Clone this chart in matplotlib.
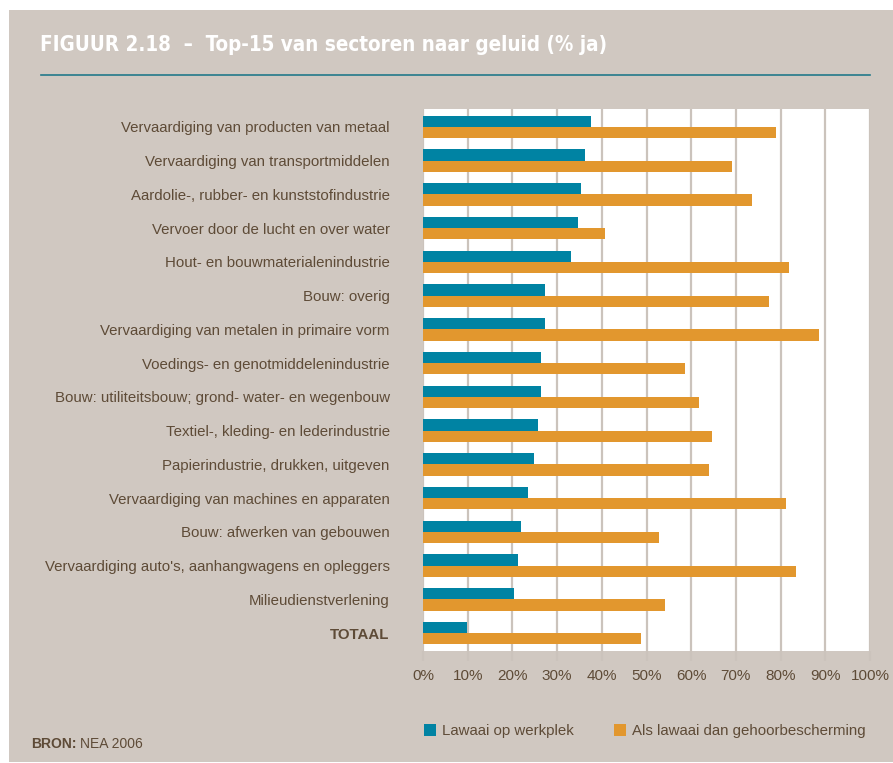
import matplotlib
matplotlib.use("Agg")
import matplotlib.pyplot as plt
from matplotlib.patches import Rectangle, Patch
from matplotlib.lines import Line2D
import numpy as np

sectors = [
    "Vervaardiging van producten van metaal",
    "Vervaardiging van transportmiddelen",
    "Aardolie-, rubber- en kunststofindustrie",
    "Vervoer door de lucht en over water",
    "Hout- en bouwmaterialenindustrie",
    "Bouw: overig",
    "Vervaardiging van metalen in primaire vorm",
    "Voedings- en genotmiddelenindustrie",
    "Bouw: utiliteitsbouw; grond- water- en wegenbouw",
    "Textiel-, kleding- en lederindustrie",
    "Papierindustrie, drukken, uitgeven",
    "Vervaardiging van machines en apparaten",
    "Bouw: afwerken van gebouwen",
    "Vervaardiging auto's, aanhangwagens en opleggers",
    "Milieudienstverlening",
    "TOTAAL",
]
lawaai_werkplek = [37.6, 36.2, 35.3, 34.7, 33.1, 27.3, 27.3, 26.4, 26.4,
                   25.7, 24.8, 23.5, 21.9, 21.3, 20.4, 9.8]
gehoorbescherming = [79.0, 69.1, 73.6, 40.7, 81.9, 77.4, 88.6, 58.6, 61.7,
                     64.7, 64.0, 81.2, 52.8, 83.4, 54.1, 48.8]
x_ticks = [0, 10, 20, 30, 40, 50, 60, 70, 80, 90, 100]
x_tick_labels = [f"{t}%" for t in x_ticks]
series_names = ["Lawaai op werkplek", "Als lawaai dan gehoorbescherming"]

BG = "#d0c8c1"
TEAL = "#0083a3"
ORANGE = "#e2972e"
TEXT = "#5e4b37"
GRID = "#cbc3bc"
plt.rcParams["font.family"] = ["Liberation Sans", "DejaVu Sans"]

W, H = 893, 763
fig = plt.figure(figsize=(W / 100, H / 100), dpi=100, facecolor="white")

# grey panel behind everything
fig.patches.append(Rectangle((9 / W, 1 / H), 1 - 9 / W, 1 - 11 / H,
                             transform=fig.transFigure, facecolor=BG,
                             edgecolor="none", zorder=-10))

# title and rule
fig.text(40 / W, 1 - 45 / H, "FIGUUR 2.18  \u2013  Top-15 van sectoren naar geluid (% ja)",
         color="white", fontsize=14.8, fontweight="bold", va="center", ha="left",
         family=["DejaVu Sans"], fontstretch="condensed")
fig.lines.append(Line2D([41 / W, 870 / W], [1 - 75 / H, 1 - 75 / H],
                        transform=fig.transFigure, color="#23798a", lw=1.2))

ax = fig.add_axes([423 / W, (H - 651) / H, 447 / W, 542 / H])
ax.set_facecolor("white")

y = np.arange(len(sectors))
h = 0.33
ax.barh(y - h / 2, lawaai_werkplek, height=h, color=TEAL, zorder=3)
ax.barh(y + h / 2, gehoorbescherming, height=h, color=ORANGE, zorder=3)

ax.set_xlim(0, 100)
ax.set_ylim(len(sectors) - 0.47, -0.53)
ax.set_xticks(x_ticks)
ax.set_xticklabels(x_tick_labels)
ax.set_yticks(y)
ax.set_yticklabels(sectors)
for lbl in ax.get_yticklabels():
    if lbl.get_text() == "TOTAAL":
        lbl.set_fontweight("bold")

ax.xaxis.grid(True, color=GRID, lw=1.6, zorder=1)
ax.tick_params(axis="x", length=7, width=1.6, color=GRID, labelsize=11,
               labelcolor=TEXT, pad=6)
ax.tick_params(axis="y", length=0, labelsize=10.8, labelcolor=TEXT, pad=24)
for s in ax.spines.values():
    s.set_visible(False)

# legend
handles = [Patch(facecolor=TEAL, edgecolor="none"),
           Patch(facecolor=ORANGE, edgecolor="none")]
fig.legend(handles, series_names, loc="center left",
           bbox_to_anchor=(410 / W, 1 - 731 / H), ncol=2, frameon=False,
           handlelength=0.8, handleheight=0.8, handletextpad=0.4,
           columnspacing=2.7, fontsize=10.8, labelcolor=TEXT)

# source
t = fig.text(31 / W, 1 - 744 / H, "BRON:", fontsize=10, fontweight="bold",
             color=TEXT, va="center", ha="left")
fig.canvas.draw()
bb = t.get_window_extent()
fig.text((bb.x1 + 4) / W, 1 - 744 / H, "NEA 2006", fontsize=10,
         color=TEXT, va="center", ha="left")

fig.savefig("out.png", dpi=100, facecolor="white")
